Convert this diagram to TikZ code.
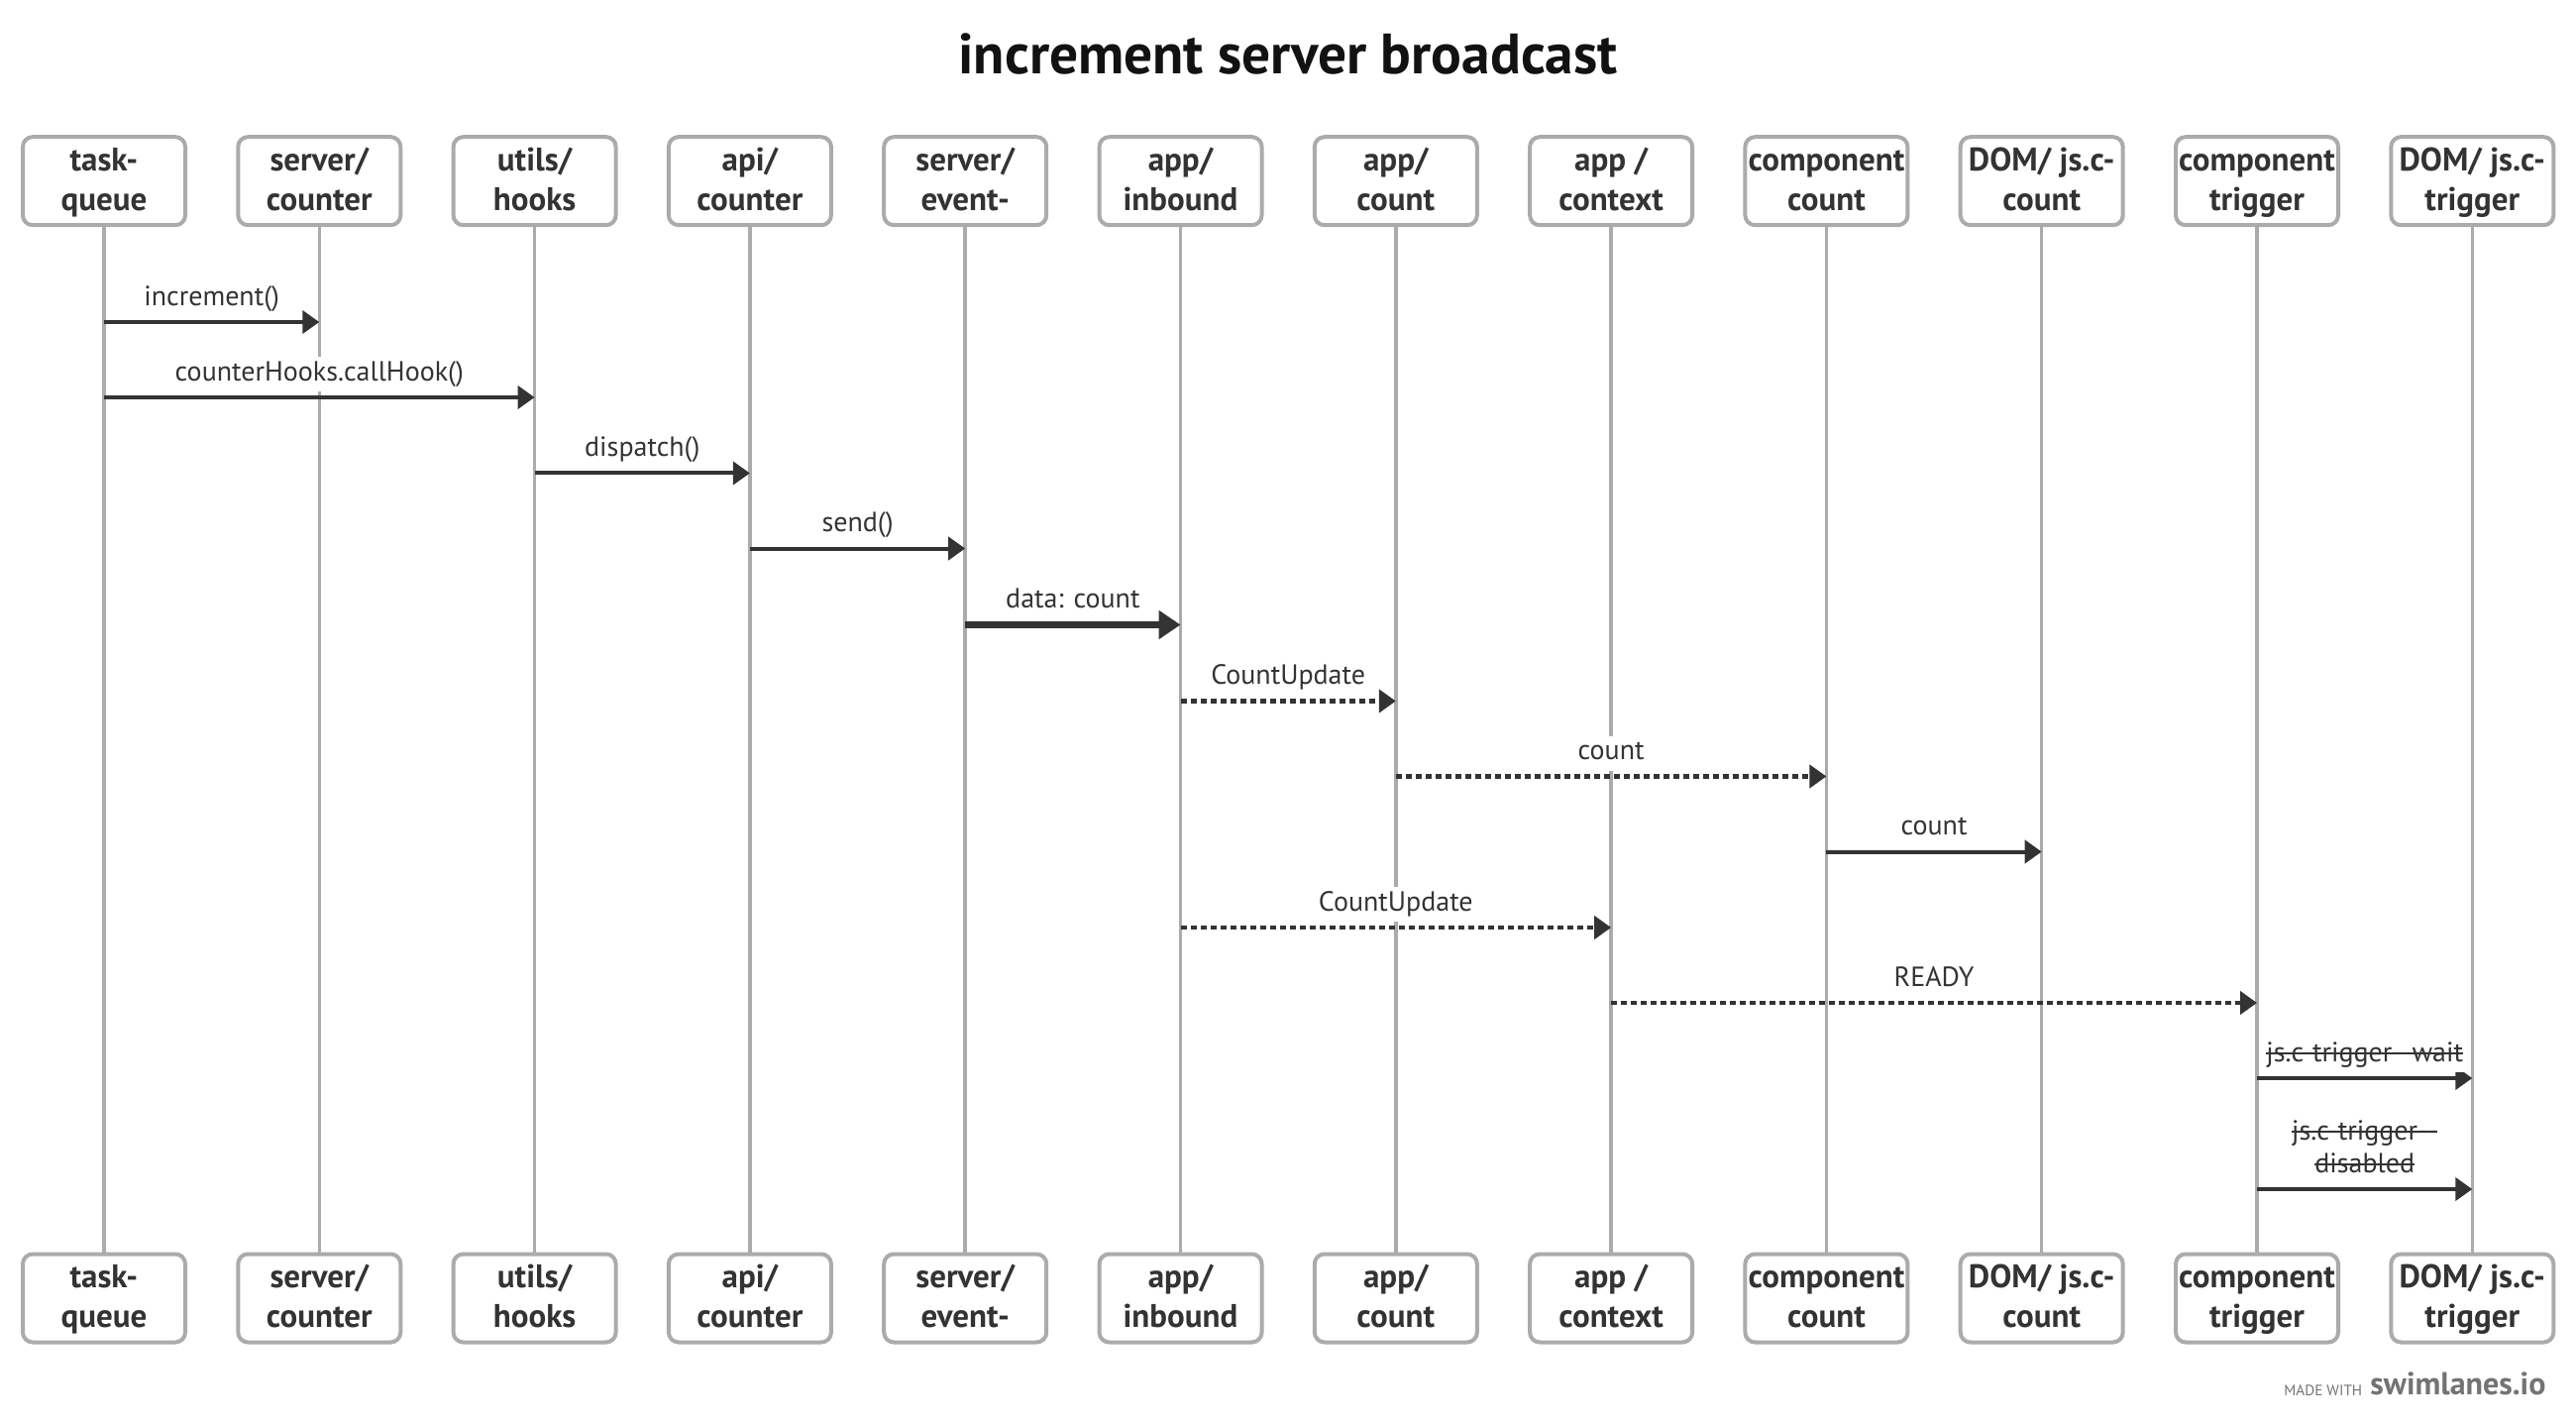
\documentclass[tikz,border=0pt]{standalone}
\usepackage{fontspec}
\setmainfont{PT Sans}
\usetikzlibrary{arrows.meta}

\newlength{\du}
\setlength{\du}{0.5pt}

\newsavebox{\strkbox}
\newcommand{\strk}[1]{\sbox{\strkbox}{#1}\rlap{\rule[0.26em]{\wd\strkbox}{0.9pt}}\usebox{\strkbox}}
% two lines with fixed heights in the heads
\newcommand{\headtext}[2]{\rule{0pt}{15pt}#1\\#2\rule[-5.5pt]{0pt}{5.5pt}}

\definecolor{lanegray}{rgb}{0.670000, 0.670000, 0.670000}
\definecolor{msgdark}{rgb}{0.200000, 0.200000, 0.200000}
\definecolor{titleblack}{rgb}{0.070000, 0.070000, 0.070000}
\definecolor{footgray}{rgb}{0.450000, 0.450000, 0.450000}

% tips in pt, 1du = 0.5pt
\tikzset{
  actor/.style={draw=lanegray, line width=4\du, rounded corners=10\du, fill=white,
    minimum width=164\du, minimum height=89\du, inner sep=0pt, align=center,
    text=msgdark, font=\bfseries\fontsize{16.5}{20}\selectfont},
  lifeline/.style={draw=lanegray, line width=3.5\du},
  msg/.style={draw=msgdark, line width=4\du, -{Triangle[length=8.5pt,width=11.5pt]}},
  reply/.style={msg, line width=4.5\du, dash pattern=on 6\du off 4\du},
  bigmsg/.style={msg, line width=7\du, -{Triangle[length=11pt,width=14pt]}},
  lbl/.style={anchor=south, fill=white, text=msgdark, inner xsep=2\du, inner ysep=1\du,
    outer ysep=6\du, align=center, font=\fontsize{14}{16.5}\selectfont,
    execute at end node=\strut},
}

\begin{document}
\begin{tikzpicture}
\pgftransformxscale{1.000000}
\pgftransformyscale{-1.000000}
\useasboundingbox (0\du,0\du) rectangle (2600\du,1438\du);
% title
\node[anchor=base, inner sep=0pt, text=titleblack, font=\bfseries\fontsize{28.7}{32}\selectfont] (title) at (1300.0\du,75.0\du) {increment server broadcast};
% heads, top row
\node[actor] (tq) at (105.0\du,182.7\du) {\headtext{task-}{queue}};
\node[actor] (srvc) at (322.3\du,182.7\du) {\headtext{server/}{counter}};
\node[actor] (hooks) at (539.6\du,182.7\du) {\headtext{utils/}{hooks}};
\node[actor] (apic) at (756.9\du,182.7\du) {\headtext{api/}{counter}};
\node[actor] (evt) at (974.2\du,182.7\du) {\headtext{server/}{event-}};
\node[actor] (inb) at (1191.5\du,182.7\du) {\headtext{app/}{inbound}};
\node[actor] (appc) at (1408.8\du,182.7\du) {\headtext{app/}{count}};
\node[actor] (ctx) at (1626.1\du,182.7\du) {\headtext{app /}{context}};
\node[actor] (cmpc) at (1843.4\du,182.7\du) {\headtext{component}{count}};
\node[actor] (domc) at (2060.7\du,182.7\du) {\headtext{DOM/ js.c-}{count}};
\node[actor] (cmpt) at (2278.0\du,182.7\du) {\headtext{component}{trigger}};
\node[actor] (domt) at (2495.3\du,182.7\du) {\headtext{DOM/ js.c-}{trigger}};
% heads, bottom row
\node[actor] (tq-b) at (105.0\du,1310.0\du) {\headtext{task-}{queue}};
\node[actor] (srvc-b) at (322.3\du,1310.0\du) {\headtext{server/}{counter}};
\node[actor] (hooks-b) at (539.6\du,1310.0\du) {\headtext{utils/}{hooks}};
\node[actor] (apic-b) at (756.9\du,1310.0\du) {\headtext{api/}{counter}};
\node[actor] (evt-b) at (974.2\du,1310.0\du) {\headtext{server/}{event-}};
\node[actor] (inb-b) at (1191.5\du,1310.0\du) {\headtext{app/}{inbound}};
\node[actor] (appc-b) at (1408.8\du,1310.0\du) {\headtext{app/}{count}};
\node[actor] (ctx-b) at (1626.1\du,1310.0\du) {\headtext{app /}{context}};
\node[actor] (cmpc-b) at (1843.4\du,1310.0\du) {\headtext{component}{count}};
\node[actor] (domc-b) at (2060.7\du,1310.0\du) {\headtext{DOM/ js.c-}{count}};
\node[actor] (cmpt-b) at (2278.0\du,1310.0\du) {\headtext{component}{trigger}};
\node[actor] (domt-b) at (2495.3\du,1310.0\du) {\headtext{DOM/ js.c-}{trigger}};
% lifelines
\draw[lifeline] (tq) -- (tq-b);
\draw[lifeline] (srvc) -- (srvc-b);
\draw[lifeline] (hooks) -- (hooks-b);
\draw[lifeline] (apic) -- (apic-b);
\draw[lifeline] (evt) -- (evt-b);
\draw[lifeline] (inb) -- (inb-b);
\draw[lifeline] (appc) -- (appc-b);
\draw[lifeline] (ctx) -- (ctx-b);
\draw[lifeline] (cmpc) -- (cmpc-b);
\draw[lifeline] (domc) -- (domc-b);
\draw[lifeline] (cmpt) -- (cmpt-b);
\draw[lifeline] (domt) -- (domt-b);
% message rows
\coordinate (m1) at (0\du,325.0\du);
\coordinate (m2) at (0\du,401.0\du);
\coordinate (m3) at (0\du,477.5\du);
\coordinate (m4) at (0\du,553.5\du);
\coordinate (m5) at (0\du,630.5\du);
\coordinate (m6) at (0\du,707.5\du);
\coordinate (m7) at (0\du,783.5\du);
\coordinate (m8) at (0\du,859.5\du);
\coordinate (m9) at (0\du,936.0\du);
\coordinate (m10) at (0\du,1012.0\du);
\coordinate (m11) at (0\du,1088.0\du);
\coordinate (m12) at (0\du,1200.0\du);
\draw[msg] (tq |- m1) -- node[lbl] {increment()} (srvc |- m1);
\draw[msg] (tq |- m2) -- node[lbl] {counterHooks.callHook()} (hooks |- m2);
\draw[msg] (hooks |- m3) -- node[lbl] {dispatch()} (apic |- m3);
\draw[msg] (apic |- m4) -- node[lbl] {send()} (evt |- m4);
\draw[bigmsg] (evt |- m5) -- node[lbl] {data: count} (inb |- m5);
\draw[reply] (inb |- m6) -- node[lbl] {CountUpdate} (appc |- m6);
\draw[reply] (appc |- m7) -- node[lbl] {count} (cmpc |- m7);
\draw[msg] (cmpc |- m8) -- node[lbl] {count} (domc |- m8);
\draw[reply] (inb |- m9) -- node[lbl] {CountUpdate} (ctx |- m9);
\draw[reply] (ctx |- m10) -- node[lbl] {READY} (cmpt |- m10);
\draw[msg] (cmpt |- m11) -- node[lbl] {\strk{js.c-trigger-{}-wait}} (domt |- m11);
\draw[msg] (cmpt |- m12) -- node[lbl] {\strk{js.c-trigger-{}-}\\\strk{disabled}} (domt |- m12);
% footer
\node[anchor=base west, inner sep=0pt, text=footgray, font=\fontsize{7.6}{9}\selectfont] (made) at (2305.0\du,1408.0\du) {MADE WITH};
\node[anchor=base west, inner sep=0pt, text=footgray, font=\bfseries\fontsize{16}{18}\selectfont] (brand) at (2392.0\du,1407.0\du) {swimlanes.io};
\end{tikzpicture}
\end{document}
